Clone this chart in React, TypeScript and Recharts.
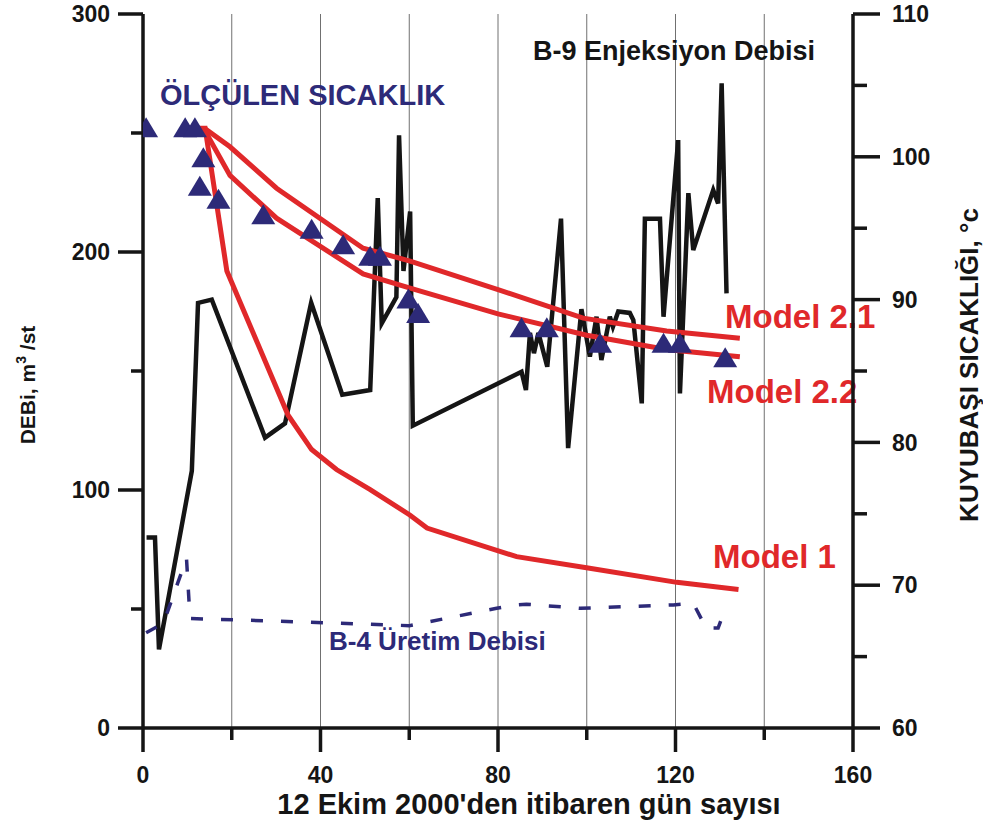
import React from "react";
import {
  ComposedChart,
  Line,
  Scatter,
  XAxis,
  YAxis,
  CartesianGrid,
  Customized,
} from "recharts";

const FONT = '"Liberation Sans", Arial, Helvetica, sans-serif';
const INK = "#151515";
const NAVY = "#2d2a78";
const RED = "#e0282a";

// B-9 injection flow (m3/st), left axis
const b9Days = [0.8, 2.7, 3.6, 11, 12.4, 15.5, 27.5, 32, 37.9, 44.9, 51.2, 52.9, 53.8, 57.1, 57.7, 58.7, 60.2, 60.8, 85.3, 86.3, 87.2, 88.1, 89.1, 91.1, 94.2, 95.8, 98.8, 100.7, 102.2, 103.3, 105.2, 105.9, 107.1, 109.7, 110.5, 112.4, 113.1, 116.5, 117.3, 120.6, 121, 122.9, 124, 128.5, 129.6, 130.4, 131.5];
const b9Flow = [80, 80, 33, 108, 178.6, 180, 122, 128, 178.7, 140, 142, 222.7, 170, 181, 249, 192, 217, 127, 149.7, 142, 166, 157.5, 166, 151.8, 214, 117.6, 176, 156, 172.8, 154.6, 172.8, 168.6, 175, 174.4, 171.4, 136.4, 214, 214, 172.8, 247, 140.6, 224.7, 200.8, 226, 220.4, 270.9, 182.6];

// B-4 production flow (m3/st), left axis
const b4Days = [0.7, 4.6, 9.8, 10.6, 28.6, 60, 79.7, 84, 86.4, 98.5, 119.5, 124, 126.9, 129.6, 131.5];
const b4Flow = [40, 44, 71.3, 46, 45, 43, 50.3, 51.7, 52, 50.3, 51.7, 52.4, 42, 42, 51.7];

// model temperatures (°C), right axis
const model1Days = [10, 14, 18.9, 32.7, 38, 43.6, 51.2, 60.2, 64, 84.2, 100.3, 120.3, 134.2];
const model1Temp = [102, 102, 92, 81.9, 79.5, 78.1, 76.7, 74.9, 74, 72, 71.2, 70.2, 69.7];

const model21Days = [10, 14.3, 19.6, 30.1, 49.6, 60.2, 80, 99.2, 118, 134.5];
const model21Temp = [102, 101.9, 100.7, 97.8, 93.6, 92.7, 90.7, 88.7, 87.8, 87.3];

const model22Days = [10, 14, 19.6, 30.1, 49.6, 60.2, 80, 100, 118, 134.5];
const model22Temp = [102, 101.8, 98.7, 95.7, 91.8, 90.8, 89.0, 87.5, 86.5, 86.0];

// measured wellhead temperature (°C)
const measDays = [0.7, 9.5, 11.7, 13.6, 12.8, 17, 27.1, 38, 45.1, 51.2, 53.4, 59.8, 62, 85.3, 91, 103, 117.3, 121, 131.2];
const measTemp = [102, 102, 102, 99.9, 97.9, 97, 95.9, 94.9, 93.8, 93, 93, 90, 89, 88, 88, 86.9, 86.9, 86.9, 85.9];

const xTicks = [0, 20, 40, 60, 80, 100, 120, 140, 160];
const leftTicks = [0, 50, 100, 150, 200, 250, 300];
const rightTicks = [60, 65, 70, 75, 80, 85, 90, 95, 100, 105, 110];

const zip = (xs: number[], ys: number[]) => xs.map((d, i) => ({ day: d, v: ys[i] }));

const b9Data = zip(b9Days, b9Flow);
const b4Data = zip(b4Days, b4Flow);
const model1Data = zip(model1Days, model1Temp);
const model21Data = zip(model21Days, model21Temp);
const model22Data = zip(model22Days, model22Temp);
const measData = zip(measDays, measTemp);

const tickText = {
  fontFamily: FONT,
  fontWeight: 700,
  fontSize: 23,
  fill: INK,
};

const XTick = (props: any) => {
  const { x, y, payload } = props;
  const major = payload.value % 40 === 0;
  return (
    <g>
      <line x1={x} y1={y} x2={x} y2={y + (major ? 24 : 12)} stroke={INK} strokeWidth={3.5} />
      {major && (
        <text x={x} y={y + 55} textAnchor="middle" {...tickText}>
          {payload.value}
        </text>
      )}
    </g>
  );
};

const LeftTick = (props: any) => {
  const { x, y, payload } = props;
  const major = payload.value % 100 === 0;
  return (
    <g>
      <line x1={x} y1={y} x2={x - (major ? 25 : 12)} y2={y} stroke={INK} strokeWidth={3.5} />
      {major && (
        <text x={x - 33} y={y} dy="0.36em" textAnchor="end" {...tickText}>
          {payload.value}
        </text>
      )}
    </g>
  );
};

const RightTick = (props: any) => {
  const { x, y, payload } = props;
  const major = payload.value % 10 === 0;
  return (
    <g>
      <line x1={x} y1={y} x2={x + (major ? 27 : 14)} y2={y} stroke={INK} strokeWidth={3.5} />
      {major && (
        <text x={x + 39} y={y} dy="0.36em" textAnchor="start" {...tickText}>
          {payload.value}
        </text>
      )}
    </g>
  );
};

const Triangle = (props: any) => {
  const { cx, cy } = props;
  if (cx == null || cy == null) return null;
  return <path d={`M${cx},${cy - 11} L${cx + 12},${cy + 9} L${cx - 12},${cy + 9} Z`} fill={NAVY} />;
};

const Annotations = () => (
  <g fontFamily={FONT} fontWeight={700}>
    <text x={160} y={105} fontSize={29} fill={NAVY}>ÖLÇÜLEN SICAKLIK</text>
    <text x={815} y={60} fontSize={27} fill={INK} textAnchor="end">B-9 Enjeksiyon Debisi</text>
    <text x={725} y={328} fontSize={33} fill={RED}>Model 2.1</text>
    <text x={707} y={403} fontSize={33} fill={RED}>Model 2.2</text>
    <text x={713} y={568} fontSize={33} fill={RED}>Model 1</text>
    <text x={329} y={650} fontSize={26} fill={NAVY}>B-4 Üretim Debisi</text>
    <text x={529} y={814} fontSize={29} fill={INK} textAnchor="middle">
      12 Ekim 2000'den itibaren gün sayısı
    </text>
    <text x={35} y={385} fontSize={21} fill={INK} textAnchor="middle" transform="rotate(-90 35 385)">
      DEBi, m<tspan fontSize={14} dy={-9}>3</tspan>
      <tspan dy={9}> /st</tspan>
    </text>
    <text x={978} y={365} fontSize={26} fill={INK} textAnchor="middle" transform="rotate(-90 978 365)">
      KUYUBAŞI SICAKLIĞI, °c
    </text>
  </g>
);

export default function App() {
  return (
    <div style={{ position: "absolute", left: 0, top: 0, background: "#fff" }}>
      <ComposedChart width={983} height={823} margin={{ top: 14, right: 0, bottom: 0, left: 0 }}>
        <CartesianGrid vertical horizontal={false} stroke="#707070" strokeWidth={1} />
        <XAxis
          dataKey="day"
          type="number"
          domain={[0, 160]}
          ticks={xTicks}
          allowDataOverflow
          height={95}
          tickSize={0}
          tickMargin={0}
          tickLine={false}
          axisLine={{ stroke: INK, strokeWidth: 3.5 }}
          tick={XTick}
          interval={0}
        />
        <YAxis
          yAxisId="left"
          type="number"
          domain={[0, 300]}
          ticks={leftTicks}
          width={143}
          tickSize={0}
          tickMargin={0}
          tickLine={false}
          axisLine={{ stroke: INK, strokeWidth: 3.5 }}
          tick={LeftTick}
          interval={0}
        />
        <YAxis
          yAxisId="right"
          orientation="right"
          type="number"
          domain={[60, 110]}
          ticks={rightTicks}
          width={130}
          tickSize={0}
          tickMargin={0}
          tickLine={false}
          axisLine={{ stroke: INK, strokeWidth: 3.5 }}
          tick={RightTick}
          interval={0}
        />
        <Line
          yAxisId="left"
          data={b9Data}
          dataKey="v"
          type="linear"
          stroke={INK}
          strokeWidth={4.5}
          dot={false}
          isAnimationActive={false}
        />
        <Line
          yAxisId="left"
          data={b4Data}
          dataKey="v"
          type="linear"
          stroke={NAVY}
          strokeWidth={3.5}
          strokeDasharray="12 18"
          dot={false}
          isAnimationActive={false}
        />
        <Scatter
          yAxisId="right"
          data={measData}
          dataKey="v"
          shape={Triangle}
          isAnimationActive={false}
        />
        <Line
          yAxisId="right"
          data={model1Data}
          dataKey="v"
          type="linear"
          stroke={RED}
          strokeWidth={5}
          dot={false}
          isAnimationActive={false}
        />
        <Line
          yAxisId="right"
          data={model21Data}
          dataKey="v"
          type="linear"
          stroke={RED}
          strokeWidth={5}
          dot={false}
          isAnimationActive={false}
        />
        <Line
          yAxisId="right"
          data={model22Data}
          dataKey="v"
          type="linear"
          stroke={RED}
          strokeWidth={5}
          dot={false}
          isAnimationActive={false}
        />
        <Customized component={Annotations} />
      </ComposedChart>
    </div>
  );
}
